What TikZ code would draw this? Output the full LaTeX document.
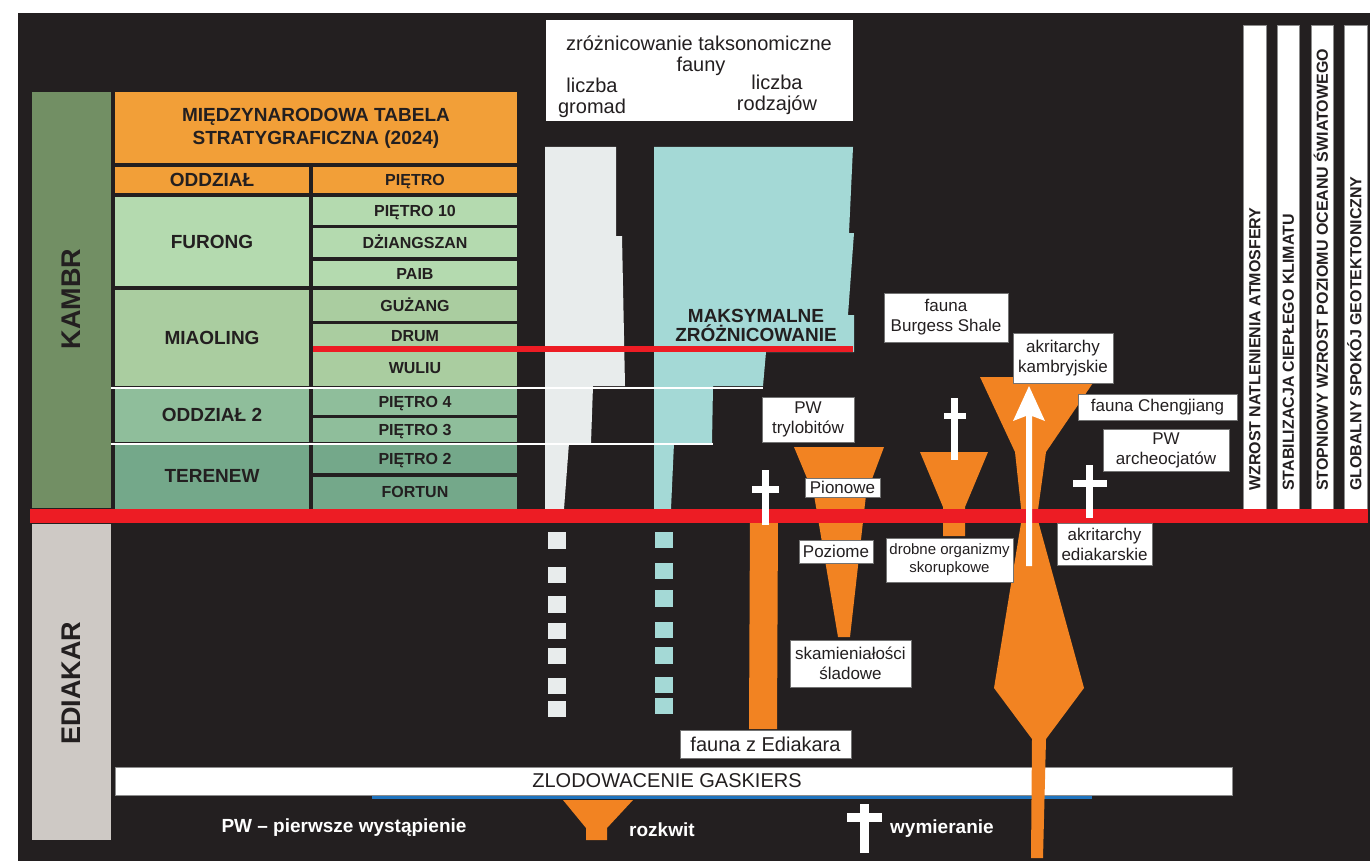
\documentclass[tikz,border=0pt]{standalone}
\usepackage{fontspec}
\setmainfont{Liberation Sans}
\definecolor{bg}{HTML}{231F20}
\definecolor{txt}{HTML}{231F20}
\definecolor{kambr}{HTML}{728F64}
\definecolor{ediak}{HTML}{CEC9C5}
\definecolor{hdr}{HTML}{F29F38}
\definecolor{furong}{HTML}{B4DAAF}
\definecolor{miao}{HTML}{AACDA0}
\definecolor{oddtwo}{HTML}{8FBE9B}
\definecolor{teren}{HTML}{74A88A}
\definecolor{redl}{HTML}{ED1C24}
\definecolor{orng}{HTML}{F28322}
\definecolor{greyb}{HTML}{E8ECEC}
\definecolor{tealb}{HTML}{A4D9D6}
\definecolor{bluel}{HTML}{1F74BF}
\begin{document}
\begin{tikzpicture}[x=1pt,y=-1pt,
  lbl/.style={fill=white, draw=black!55, line width=0.7pt, inner sep=0pt, align=center, text=txt, font=\fontsize{17}{20}\selectfont},
  stg/.style={text=txt, font=\bfseries\fontsize{16}{18}\selectfont, inner sep=0pt, text height=11.5pt, text depth=0pt},
  divn/.style={text=txt, font=\bfseries\fontsize{19}{23}\selectfont, inner sep=0pt, text height=13.6pt, text depth=0pt},
  era/.style={text=txt, font=\bfseries\fontsize{27}{30}\selectfont, rotate=90, inner sep=0pt, text height=19.3pt, text depth=0pt},
  vbar/.style={text=txt, font=\bfseries\fontsize{16}{18}\selectfont, rotate=90, anchor=west, inner sep=0pt, text height=11.5pt, text depth=0pt},
  toptxt/.style={text=txt, font=\fontsize{20}{22}\selectfont, inner sep=0pt, anchor=base},
  leg/.style={text=white, font=\bfseries\fontsize{19}{22}\selectfont, inner sep=0pt, anchor=base},
  barbox/.style={fill=white, draw=black!45, line width=0.7pt}
]
\useasboundingbox (0,0) rectangle (1370,861);
\fill[white] (0,0) rectangle (1370,861);
\fill[bg] (18,13) rectangle (1370,861);

% era columns
\fill[kambr] (32,92) rectangle (111,508);
\node[era] (kambr) at (71,299) {KAMBR};
\fill[ediak] (32,524) rectangle (111,840);
\node[era] (ediakar) at (71,683) {EDIAKAR};

% table header
\fill[hdr] (115,92) rectangle (517,163);
\node[divn] (hdrA) at (316,115) {MIĘDZYNARODOWA TABELA};
\node[divn] (hdrB) at (316,138) {STRATYGRAFICZNA (2024)};
\fill[hdr] (115,167) rectangle (309,193);
\fill[hdr] (313,167) rectangle (517,193);
\node[divn] (oddz) at (212,180) {ODDZIAŁ};
\node[stg] (pietro) at (415,180) {PIĘTRO};

% divisions
\fill[furong] (115,197) rectangle (309,286);
\fill[miao] (115,290) rectangle (309,386);
\fill[oddtwo] (115,389) rectangle (309,442);
\fill[teren] (115,445) rectangle (309,509);
\node[divn] (furongT) at (212,242) {FURONG};
\node[divn] (miaoT) at (212,338) {MIAOLING};
\node[divn] (oddtwoT) at (212,415) {ODDZIAŁ 2};
\node[divn] (terenT) at (212,476) {TERENEW};

% stages
\fill[furong] (313,197) rectangle (517,225);
\fill[furong] (313,228) rectangle (517,257);
\fill[furong] (313,261) rectangle (517,286);
\fill[miao] (313,290) rectangle (517,321);
\fill[miao] (313,324) rectangle (517,386);
\fill[oddtwo] (313,389) rectangle (517,415);
\fill[oddtwo] (313,418) rectangle (517,442);
\fill[teren] (313,445) rectangle (517,473);
\fill[teren] (313,477) rectangle (517,509);
\node[stg] (s10) at (415,211) {PIĘTRO 10};
\node[stg] (sdz) at (415,243) {DŻIANGSZAN};
\node[stg] (spaib) at (415,274) {PAIB};
\node[stg] (sguz) at (415,306) {GUŻANG};
\node[stg] (sdrum) at (415,336) {DRUM};
\node[stg] (swul) at (415,368) {WULIU};
\node[stg] (s4) at (415,402) {PIĘTRO 4};
\node[stg] (s3) at (415,430) {PIĘTRO 3};
\node[stg] (s2) at (415,459) {PIĘTRO 2};
\node[stg] (sfort) at (415,492) {FORTUN};

% diversity shapes
\fill[greyb] (545,147) -- (616,147) -- (616,236) -- (622,236) -- (625,386) -- (593,386) -- (591,443) -- (569,443) -- (564,509) -- (545,509) -- cycle;
\fill[tealb] (654,147) -- (853,147) -- (849,233) -- (854,233) -- (848,315) -- (854,315) -- (854,352) -- (766,352) -- (763,386) -- (713,386) -- (712,443) -- (674,443) -- (671,509) -- (654,509) -- cycle;
\node[divn, text height=13.6pt, align=center, font=\bfseries\fontsize{19}{20}\selectfont, text depth=0pt] (maxd) at (756,316) {MAKSYMALNE};
\node[divn] (maxd2) at (756,335) {ZRÓŻNICOWANIE};
\foreach \ya/\yb in {532/549,567/583,596/613,623/639,648/664,678/694,701/717}
  \fill[greyb] (548,\ya) rectangle (566,\yb);
\foreach \ya/\yb in {532/548,563/579,590/607,622/638,647/664,677/693,698/714}
  \fill[tealb] (655,\ya) rectangle (673,\yb);

% white separation lines and Drum red line
\fill[white] (111,386.6) rectangle (763,388.8);
\fill[white] (111,442.6) rectangle (713,444.8);
\fill[redl] (313,346) rectangle (853,352);

% top box
\fill[white] (546,20) rectangle (853,121);
\node[toptxt] (zt) at (699,51) {zróżnicowanie taksonomiczne};
\node[toptxt] (fauny) at (701,72) {fauny};
\node[toptxt] (lgA) at (592,93) {liczba};
\node[toptxt] (lgB) at (592,114) {gromad};
\node[toptxt] (lrA) at (777,90) {liczba};
\node[toptxt] (lrB) at (777,111) {rodzajów};

% right bars
\fill[barbox] (1243,25) rectangle (1266,509);
\fill[barbox] (1277,25) rectangle (1299,509);
\fill[barbox] (1311,25) rectangle (1333,509);
\fill[barbox] (1344,25) rectangle (1367,509);
\node[vbar] (vb1) at (1254.5,491) {WZROST NATLENIENIA ATMOSFERY};
\node[vbar] (vb2) at (1288,491) {STABILIZACJA CIEPŁEGO KLIMATU};
\node[vbar] (vb3) at (1322,491) {STOPNIOWY WZROST POZIOMU OCEANU ŚWIATOWEGO};
\node[vbar] (vb4) at (1355.5,491) {GLOBALNY SPOKÓJ GEOTEKTONICZNY};

% glaciation bar
\fill[bluel] (372,794) rectangle (1092,799);
\fill[barbox] (115,767) rectangle (1232,795);
\node[text=txt, font=\fontsize{20}{22}\selectfont, inner sep=0pt] (gask) at (667,781) {ZLODOWACENIE GASKIERS};

% orange shapes
\fill[orng] (750,515) -- (778,515) -- (777,729) -- (749,729) -- cycle;
\fill[orng] (794,447) -- (884,447) -- (866,495) -- (850,637) -- (838,637) -- (814,495) -- cycle;
\fill[orng] (920,452) -- (988,452) -- (965,507) -- (965,536) -- (943,536) -- (943,507) -- cycle;
\fill[orng] (980,377) -- (1097,377) -- (1046,452) -- (1037,517) -- (1084,688) -- (1046,739) -- (1043,858) -- (1031,858) -- (1032,739) -- (994,688) -- (1022,517) -- (1015,452) -- cycle;

% main boundary
\fill[redl] (30,509) rectangle (1368,523);

% crosses and arrow
\fill[white] (762,470) rectangle (769,525);
\fill[white] (752,486) rectangle (779,493);
\fill[white] (951,398) rectangle (958,460);
\fill[white] (944,413) rectangle (966,419);
\fill[white] (1086,465) rectangle (1093,518);
\fill[white] (1073,480) rectangle (1107,487);
\fill[white] (1029,386) -- (1045,421) -- (1032,416) -- (1032,566) -- (1026,566) -- (1026,416) -- (1013,421) -- cycle;

% labels
\node[lbl, minimum width=124, minimum height=49] (burgess) at (946,317.5) {fauna\\Burgess Shale};
\node[lbl, minimum width=100, minimum height=50] (akkamb) at (1063,358) {akritarchy\\kambryjskie};
\node[lbl, minimum width=159, minimum height=26] (cheng) at (1157.5,407) {fauna Chengjiang};
\node[lbl, minimum width=126, minimum height=42] (archeo) at (1166,450) {PW\\archeocjatów};
\node[lbl, minimum width=95, minimum height=42] (akedi) at (1104.5,544) {akritarchy\\ediakarskie};
\node[lbl, minimum width=92, minimum height=45] (trylo) at (808,419.5) {PW\\trylobitów};
\node[lbl, minimum width=75, minimum height=19] (pion) at (842.5,487.5) {Pionowe};
\node[lbl, minimum width=74, minimum height=23] (poz) at (836,551.5) {Poziome};
\node[lbl, font=\fontsize{15}{18}\selectfont, minimum width=127, minimum height=44] (shelly) at (949.5,560) {drobne organizmy\\skorupkowe};
\node[lbl, minimum width=121, minimum height=47] (trace) at (850.5,663.5) {skamieniałości\\śladowe};
\node[lbl, font=\fontsize{20}{22}\selectfont, minimum width=171, minimum height=28] (edfauna) at (765.5,744) {fauna z Ediakara};

% legend
\node[leg] (pwleg) at (344,832) {PW – pierwsze wystąpienie};
\fill[orng] (563,800) -- (633,800) -- (607,828) -- (607,840) -- (586,840) -- (586,828) -- cycle;
\node[leg, anchor=base west] (rozk) at (629,836) {rozkwit};
\fill[white] (860,804) rectangle (869,853);
\fill[white] (847,813) rectangle (882,822);
\node[leg, anchor=base west] (wym) at (890,833) {wymieranie};
\end{tikzpicture}
\end{document}
